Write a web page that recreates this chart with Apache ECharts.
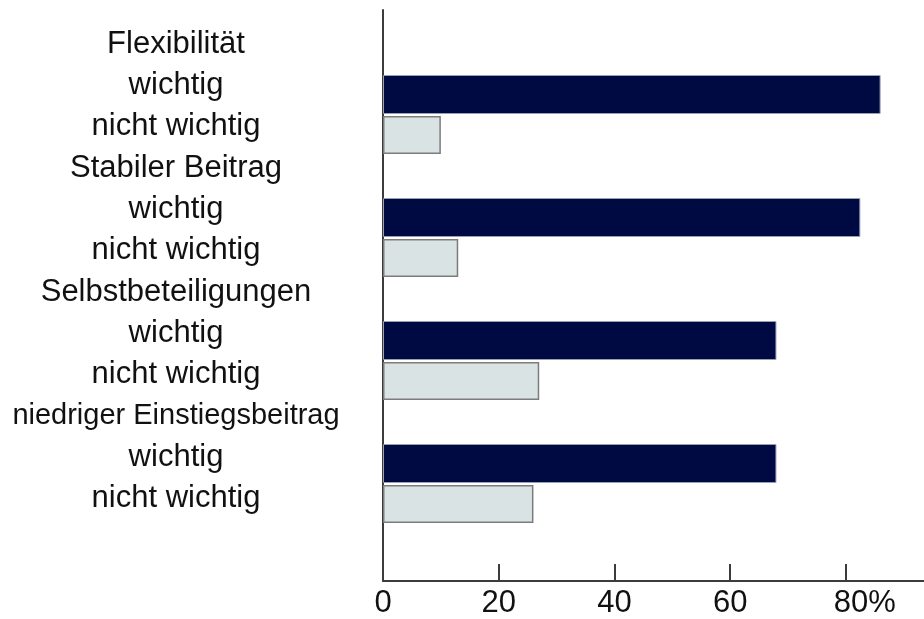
<!DOCTYPE html>
<html>
<head>
<meta charset="utf-8">
<title>Wichtigkeit von Tarifmerkmalen</title>
<script src="https://cdn.jsdelivr.net/npm/echarts@6/dist/echarts.min.js"></script>
<style>
  html, body { margin: 0; padding: 0; background: #ffffff; }
  #chart { width: 924px; height: 619px; }
</style>
</head>
<body>
<div id="chart"></div>
<script>
// Merkmale (Gruppen) und Anteile in Prozent
const groups = ['Flexibilität', 'Stabiler Beitrag', 'Selbstbeteiligungen', 'niedriger Einstiegsbeitrag'];
const answerLabels = ['wichtig', 'nicht wichtig'];
const wichtigValues = [86, 82.5, 68, 68];
const nichtWichtigValues = [10, 13, 27, 26];
const xTicks = [0, 20, 40, 60, 80];
const xTickLabels = ['0', '20', '40', '60', '80%'];

// Je Gruppe drei Zeilen: Überschrift, "wichtig", "nicht wichtig"
const rowLabels = [];
const wichtigRows = [];
const nichtWichtigRows = [];
groups.forEach((g, i) => {
  rowLabels.push(g, answerLabels[0], answerLabels[1]);
  wichtigRows.push(null, wichtigValues[i], null);
  nichtWichtigRows.push(null, null, nichtWichtigValues[i]);
});

const FONT = '"Liberation Sans", Arial, sans-serif';
const AXIS_COLOR = '#3c3c3c';
const X_MAX = 93.5;

const chart = echarts.init(document.getElementById('chart'), null, { renderer: 'canvas' });

chart.setOption({
  animation: false,
  backgroundColor: '#ffffff',
  grid: [
    // sichtbare Achsen
    { left: 383, right: 0, top: 10, bottom: 35.7, containLabel: false },
    // Balken
    { left: 383, right: 0, top: 32.5, bottom: 94.5, containLabel: false },
    // Zeilenbeschriftungen
    { left: 383, right: 0, top: 23.5, bottom: 99.8, containLabel: false }
  ],
  xAxis: [
    {
      gridIndex: 0,
      type: 'value',
      min: 0,
      max: X_MAX,
      interval: 20,
      axisLine: { show: true, lineStyle: { color: AXIS_COLOR, width: 2 } },
      axisTick: { show: true, inside: true, length: 17, lineStyle: { color: AXIS_COLOR, width: 2 } },
      splitLine: { show: false },
      axisLabel: {
        show: true,
        margin: 7,
        showMaxLabel: false,
        fontFamily: FONT,
        fontSize: 31,
        color: '#111111',
        formatter: function (v) {
          const idx = xTicks.indexOf(v);
          if (idx < 0) return '';
          const txt = xTickLabels[idx];
          return idx === xTicks.length - 1 ? '{pad| }' + txt : txt;
        },
        rich: {
          pad: { width: 38, fontSize: 31, fontFamily: FONT }
        }
      }
    },
    {
      gridIndex: 1,
      type: 'value',
      min: 0,
      max: X_MAX,
      show: false
    },
    {
      gridIndex: 2,
      type: 'value',
      min: 0,
      max: X_MAX,
      show: false
    }
  ],
  yAxis: [
    {
      gridIndex: 0,
      type: 'value',
      min: 0,
      max: 1,
      axisLine: { show: true, lineStyle: { color: AXIS_COLOR, width: 2 } },
      axisTick: { show: false },
      axisLabel: { show: false },
      splitLine: { show: false }
    },
    {
      gridIndex: 1,
      type: 'category',
      inverse: true,
      data: rowLabels,
      axisLine: { show: false },
      axisTick: { show: false },
      axisLabel: { show: false },
      splitLine: { show: false }
    },
    {
      gridIndex: 2,
      type: 'category',
      inverse: true,
      data: rowLabels,
      axisLine: { show: false },
      axisTick: { show: false },
      splitLine: { show: false },
      axisLabel: {
        show: true,
        align: 'center',
        margin: 207,
        fontFamily: FONT,
        fontSize: 31,
        color: '#111111',
        interval: 0,
        formatter: function (v) {
          return v.length > 20 ? '{narrow|' + v + '}' : v;
        },
        rich: {
          narrow: { fontSize: 29, fontFamily: FONT, color: '#111111' }
        }
      }
    }
  ],
  series: [
    {
      name: answerLabels[0],
      type: 'bar',
      xAxisIndex: 1,
      yAxisIndex: 1,
      data: wichtigRows,
      barWidth: 39,
      barGap: '-100%',
      itemStyle: { color: '#000a42', borderColor: '#9aa0b4', borderWidth: 1 }
    },
    {
      name: answerLabels[1],
      type: 'bar',
      xAxisIndex: 1,
      yAxisIndex: 1,
      data: nichtWichtigRows,
      barWidth: 38,
      barGap: '-100%',
      itemStyle: { color: '#d9e3e4', borderColor: '#7c7c7c', borderWidth: 1.5 }
    }
  ]
});
</script>
</body>
</html>
